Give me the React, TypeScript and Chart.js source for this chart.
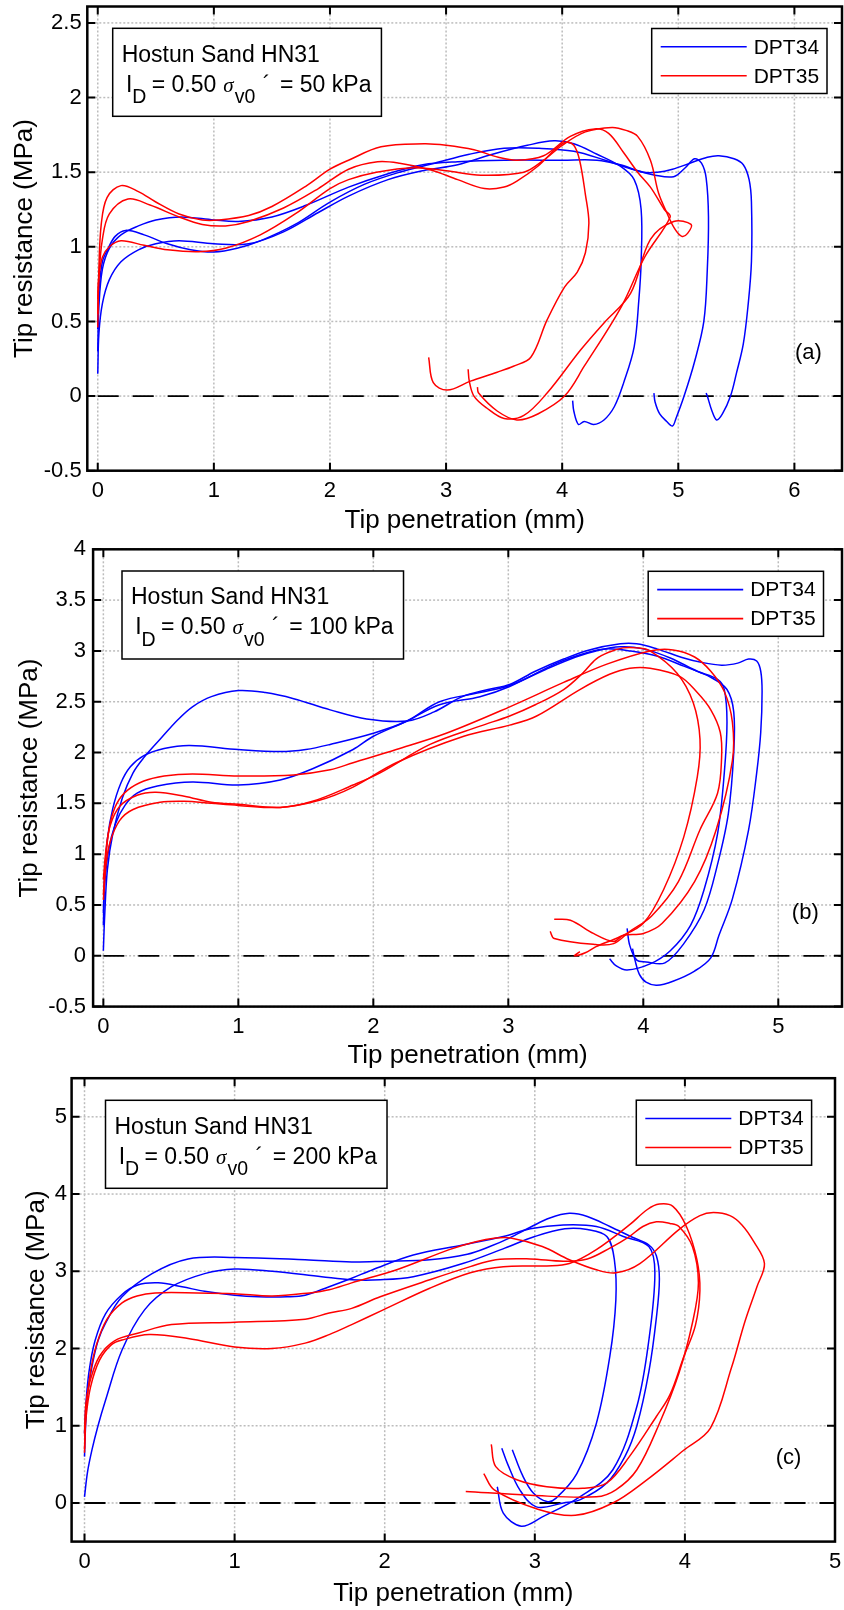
import React, { useEffect, useRef } from "react";
import { Chart, registerables } from "chart.js";

Chart.register(...registerables);

type Pt = [number, number];

// ---------------- Panel (a): sigma'v0 = 50 kPa ----------------
const a_dpt34_1: Pt[] = [[0.0,0.15],[0.01,0.42],[0.04,0.62],[0.1,0.78],[0.2,0.9],[0.35,0.98],[0.5,1.02],[0.7,1.04],[1.0,1.02],[1.3,1.02],[1.6,1.1],[1.9,1.23],[2.16,1.34],[2.5,1.45],[2.8,1.51],[3.1,1.55],[3.4,1.62],[3.7,1.68],[3.93,1.71],[4.1,1.69],[4.3,1.62],[4.5,1.54],[4.62,1.45],[4.68,1.25],[4.68,0.9],[4.66,0.64],[4.62,0.33],[4.53,0.09],[4.45,-0.07],[4.36,-0.16],[4.27,-0.19],[4.19,-0.17],[4.14,-0.19],[4.1,-0.1],[4.09,-0.03]];
const a_dpt34_2: Pt[] = [[0.0,0.45],[0.01,0.7],[0.04,0.9],[0.09,0.99],[0.15,1.07],[0.24,1.11],[0.4,1.08],[0.6,1.02],[0.8,0.98],[1.0,0.965],[1.2,0.99],[1.4,1.04],[1.7,1.15],[2.0,1.3],[2.3,1.42],[2.6,1.5],[2.9,1.56],[3.2,1.62],[3.5,1.66],[3.8,1.66],[4.1,1.64],[4.37,1.58],[4.6,1.52],[4.8,1.48],[4.96,1.47],[5.06,1.53],[5.14,1.59],[5.2,1.56],[5.24,1.46],[5.26,1.2],[5.25,0.85],[5.22,0.5],[5.14,0.23],[5.05,0.0],[4.98,-0.15],[4.95,-0.2],[4.9,-0.17],[4.84,-0.12],[4.8,-0.04],[4.79,0.02]];
const a_dpt34_3: Pt[] = [[0.0,0.3],[0.01,0.6],[0.04,0.85],[0.1,0.99],[0.2,1.08],[0.35,1.14],[0.5,1.18],[0.72,1.2],[1.0,1.18],[1.21,1.17],[1.5,1.2],[1.8,1.28],[2.16,1.4],[2.5,1.49],[2.8,1.55],[3.1,1.57],[3.5,1.58],[4.0,1.58],[4.3,1.58],[4.5,1.55],[4.7,1.5],[4.82,1.5],[4.95,1.52],[5.1,1.56],[5.25,1.6],[5.35,1.61],[5.48,1.59],[5.56,1.55],[5.61,1.45],[5.63,1.3],[5.63,0.9],[5.6,0.6],[5.56,0.35],[5.5,0.15],[5.45,0.0],[5.38,-0.12],[5.33,-0.16],[5.29,-0.1],[5.25,0.0],[5.24,0.02]];
const a_dpt35_1: Pt[] = [[0.0,0.46],[0.01,0.85],[0.03,1.15],[0.08,1.33],[0.2,1.41],[0.35,1.37],[0.5,1.3],[0.7,1.22],[0.9,1.18],[1.04,1.18],[1.3,1.21],[1.5,1.27],[1.8,1.41],[2.0,1.52],[2.16,1.58],[2.44,1.67],[2.81,1.69],[3.0,1.68],[3.24,1.65],[3.45,1.6],[3.61,1.58],[3.84,1.61],[4.07,1.74],[4.28,1.79],[4.4,1.76],[4.53,1.63],[4.65,1.5],[4.76,1.4],[4.88,1.25],[4.93,1.2],[4.71,0.93],[4.51,0.6],[4.19,0.2],[4.02,0.0],[3.79,-0.12],[3.61,-0.16],[3.44,-0.1],[3.28,0.02],[3.27,0.06]];
const a_dpt35_2: Pt[] = [[0.0,0.55],[0.01,0.8],[0.04,1.05],[0.1,1.22],[0.26,1.32],[0.45,1.28],[0.7,1.2],[0.9,1.15],[1.1,1.14],[1.3,1.17],[1.6,1.26],[1.9,1.39],[2.16,1.52],[2.41,1.57],[2.6,1.56],[2.87,1.515],[3.1,1.45],[3.33,1.39],[3.5,1.4],[3.61,1.44],[3.79,1.54],[3.95,1.66],[4.03,1.7],[4.1,1.68],[4.15,1.58],[4.2,1.35],[4.23,1.16],[4.2,0.96],[4.13,0.83],[4.02,0.73],[3.87,0.51],[3.73,0.26],[3.58,0.2],[3.44,0.16],[3.21,0.1],[3.01,0.04],[2.89,0.09],[2.85,0.26]];
const a_dpt35_3: Pt[] = [[0.0,0.65],[0.01,0.8],[0.04,0.93],[0.1,1.0],[0.2,1.04],[0.4,1.01],[0.6,0.98],[0.87,0.967],[1.1,0.99],[1.4,1.08],[1.7,1.22],[2.0,1.39],[2.16,1.45],[2.4,1.5],[2.72,1.53],[3.0,1.51],[3.3,1.48],[3.67,1.5],[3.84,1.58],[4.0,1.68],[4.2,1.77],[4.43,1.8],[4.55,1.78],[4.65,1.74],[4.76,1.58],[4.83,1.36],[4.9,1.23],[4.97,1.12],[5.03,1.07],[5.08,1.09],[5.11,1.15],[4.96,1.17],[4.76,1.05],[4.59,0.69],[4.36,0.49],[4.16,0.31],[3.87,0.02],[3.67,-0.13],[3.5,-0.15],[3.35,-0.08],[3.24,0.0],[3.2,0.1],[3.19,0.18]];

// ---------------- Panel (b): sigma'v0 = 100 kPa ----------------
const b_dpt34_1: Pt[] = [[0.0,0.05],[0.01,0.4],[0.03,0.85],[0.07,1.2],[0.14,1.55],[0.22,1.8],[0.3,1.95],[0.42,2.13],[0.55,2.32],[0.66,2.45],[0.8,2.55],[1.0,2.61],[1.2,2.59],[1.41,2.53],[1.68,2.42],[1.95,2.33],[2.25,2.31],[2.45,2.4],[2.66,2.55],[2.85,2.62],[3.01,2.67],[3.2,2.8],[3.41,2.92],[3.6,3.01],[3.83,3.07],[3.95,3.07],[4.1,3.02],[4.3,2.93],[4.42,2.89],[4.58,2.86],[4.7,2.88],[4.78,2.92],[4.84,2.9],[4.87,2.8],[4.88,2.6],[4.87,2.2],[4.84,1.8],[4.78,1.24],[4.66,0.56],[4.56,0.2],[4.5,-0.02],[4.38,-0.15],[4.22,-0.25],[4.1,-0.29],[4.02,-0.26],[3.97,-0.18],[3.94,-0.05],[3.92,0.07]];
const b_dpt34_2: Pt[] = [[0.0,0.42],[0.01,0.8],[0.03,1.15],[0.07,1.45],[0.13,1.7],[0.2,1.86],[0.3,1.97],[0.45,2.04],[0.64,2.07],[1.0,2.03],[1.31,2.01],[1.5,2.03],[1.68,2.08],[2.0,2.19],[2.25,2.31],[2.49,2.5],[2.79,2.59],[3.01,2.66],[3.28,2.82],[3.5,2.94],[3.65,3.0],[3.83,3.04],[4.0,3.02],[4.2,2.93],[4.4,2.8],[4.55,2.72],[4.6,2.62],[4.62,2.3],[4.6,1.8],[4.55,1.2],[4.45,0.65],[4.35,0.3],[4.2,0.05],[4.05,-0.08],[3.88,-0.14],[3.8,-0.1],[3.75,-0.03]];
const b_dpt34_3: Pt[] = [[0.0,0.3],[0.01,0.7],[0.04,1.05],[0.09,1.3],[0.16,1.48],[0.25,1.6],[0.4,1.67],[0.66,1.71],[1.0,1.68],[1.31,1.73],[1.55,1.84],[1.85,2.03],[2.0,2.16],[2.25,2.31],[2.49,2.47],[2.79,2.55],[3.01,2.65],[3.36,2.88],[3.6,2.99],[3.73,3.02],[3.9,3.0],[4.1,2.95],[4.3,2.85],[4.5,2.74],[4.62,2.62],[4.67,2.4],[4.67,2.0],[4.63,1.4],[4.55,0.9],[4.45,0.45],[4.3,0.12],[4.16,-0.07],[4.02,-0.06],[3.95,-0.04],[3.9,0.1],[3.88,0.27]];
const b_dpt35_1: Pt[] = [[0.0,0.6],[0.02,1.0],[0.05,1.3],[0.1,1.5],[0.18,1.63],[0.3,1.72],[0.45,1.77],[0.66,1.79],[1.0,1.77],[1.41,1.78],[1.68,1.83],[1.85,1.9],[2.17,2.03],[2.54,2.19],[3.01,2.45],[3.41,2.69],[3.73,2.87],[4.05,3.0],[4.22,3.01],[4.38,2.94],[4.5,2.8],[4.6,2.6],[4.66,2.3],[4.66,1.92],[4.54,1.24],[4.38,0.73],[4.14,0.32],[4.0,0.22],[3.85,0.2],[3.78,0.14],[3.63,0.22],[3.46,0.35],[3.34,0.36]];
const b_dpt35_2: Pt[] = [[0.0,0.75],[0.02,1.05],[0.05,1.28],[0.12,1.47],[0.25,1.58],[0.39,1.61],[0.6,1.57],[0.8,1.51],[1.0,1.49],[1.31,1.46],[1.55,1.52],[1.85,1.68],[2.05,1.8],[2.42,2.08],[2.79,2.26],[3.01,2.36],[3.2,2.47],[3.41,2.62],[3.55,2.78],[3.65,2.92],[3.75,2.99],[3.85,3.03],[3.95,3.03],[4.05,3.0],[4.25,2.78],[4.37,2.49],[4.42,2.13],[4.4,1.76],[4.3,1.17],[4.15,0.65],[4.0,0.32],[3.83,0.19],[3.65,0.09],[3.57,0.03],[3.49,0.0],[3.53,0.04]];
const b_dpt35_3: Pt[] = [[0.0,0.55],[0.02,0.9],[0.05,1.12],[0.12,1.33],[0.22,1.44],[0.42,1.51],[0.6,1.52],[0.8,1.5],[1.0,1.48],[1.31,1.46],[1.6,1.53],[1.85,1.66],[2.17,1.9],[2.67,2.16],[3.01,2.27],[3.21,2.36],[3.53,2.62],[3.75,2.77],[3.9,2.83],[4.05,2.83],[4.27,2.75],[4.4,2.59],[4.5,2.42],[4.57,2.2],[4.58,1.95],[4.55,1.6],[4.42,1.24],[4.26,0.73],[4.06,0.39],[3.9,0.24],[3.78,0.12],[3.65,0.11],[3.34,0.17],[3.31,0.24]];

// ---------------- Panel (c): sigma'v0 = 200 kPa ----------------
const c_dpt34_1: Pt[] = [[0.0,0.08],[0.02,0.4],[0.05,0.69],[0.09,1.0],[0.14,1.33],[0.25,1.98],[0.4,2.5],[0.58,2.8],[0.8,2.97],[1.0,3.03],[1.25,3.0],[1.58,2.93],[1.78,2.89],[1.97,2.89],[2.19,2.93],[2.52,3.1],[2.8,3.3],[3.0,3.45],[3.2,3.55],[3.35,3.54],[3.48,3.45],[3.53,3.15],[3.54,2.63],[3.5,1.9],[3.41,1.03],[3.28,0.38],[3.14,0.06],[3.08,0.02],[2.99,0.13],[2.92,0.35],[2.85,0.69]];
const c_dpt34_2: Pt[] = [[0.0,0.6],[0.005,0.9],[0.02,1.4],[0.05,1.77],[0.09,2.1],[0.14,2.33],[0.25,2.67],[0.45,2.97],[0.69,3.16],[1.0,3.18],[1.47,3.15],[1.78,3.12],[2.0,3.13],[2.3,3.15],[2.55,3.22],[2.7,3.32],[2.83,3.43],[2.97,3.57],[3.1,3.69],[3.23,3.75],[3.35,3.71],[3.5,3.58],[3.65,3.44],[3.76,3.34],[3.81,3.2],[3.83,2.9],[3.81,2.4],[3.76,1.7],[3.68,1.0],[3.6,0.6],[3.48,0.26],[3.3,0.04],[3.19,0.0],[3.01,-0.05],[2.9,0.17],[2.82,0.5],[2.78,0.71]];
const c_dpt34_3: Pt[] = [[0.0,0.9],[0.01,1.3],[0.03,1.7],[0.07,2.1],[0.14,2.45],[0.25,2.7],[0.35,2.82],[0.49,2.85],[0.65,2.8],[0.8,2.74],[1.0,2.69],[1.16,2.67],[1.35,2.67],[1.47,2.69],[1.63,2.8],[1.78,2.91],[1.92,3.02],[2.19,3.21],[2.52,3.34],[2.79,3.45],[2.97,3.55],[3.19,3.6],[3.41,3.58],[3.59,3.45],[3.76,3.32],[3.8,2.98],[3.76,2.11],[3.68,1.25],[3.52,0.43],[3.3,0.08],[3.05,-0.18],[2.91,-0.3],[2.79,-0.13],[2.75,0.21]];
const c_dpt35_1: Pt[] = [[0.0,0.65],[0.01,1.2],[0.04,1.7],[0.08,2.05],[0.15,2.38],[0.25,2.59],[0.35,2.68],[0.47,2.72],[0.75,2.72],[1.0,2.71],[1.25,2.68],[1.5,2.72],[1.63,2.76],[1.78,2.85],[2.08,3.02],[2.43,3.28],[2.6,3.38],[2.74,3.43],[2.84,3.43],[3.05,3.32],[3.23,3.15],[3.41,3.02],[3.54,2.98],[3.7,3.1],[3.96,3.54],[4.1,3.72],[4.19,3.76],[4.3,3.72],[4.38,3.6],[4.46,3.38],[4.53,3.1],[4.48,2.8],[4.4,2.35],[4.31,1.75],[4.17,0.97],[3.99,0.68],[3.74,0.29],[3.52,0.0],[3.27,-0.16],[3.02,-0.08],[2.73,0.17],[2.66,0.38]];
const c_dpt35_2: Pt[] = [[0.0,0.9],[0.01,1.3],[0.04,1.6],[0.1,1.9],[0.2,2.1],[0.36,2.2],[0.58,2.31],[1.0,2.34],[1.47,2.38],[1.63,2.46],[1.78,2.52],[1.97,2.67],[2.3,2.89],[2.57,3.06],[2.74,3.15],[2.97,3.16],[3.19,3.13],[3.35,3.16],[3.5,3.3],[3.63,3.45],[3.72,3.58],[3.81,3.64],[3.9,3.62],[3.96,3.58],[4.05,3.32],[4.09,2.85],[4.05,2.33],[3.96,1.68],[3.83,1.03],[3.68,0.43],[3.54,0.17],[3.41,0.08],[2.97,0.1],[2.54,0.15]];
const c_dpt35_3: Pt[] = [[0.0,0.7],[0.01,1.1],[0.04,1.5],[0.1,1.85],[0.18,2.05],[0.25,2.11],[0.43,2.18],[0.69,2.13],[1.0,2.02],[1.25,2.0],[1.47,2.07],[1.63,2.18],[1.78,2.31],[1.99,2.5],[2.3,2.78],[2.57,2.98],[2.79,3.06],[3.08,3.07],[3.23,3.1],[3.41,3.28],[3.63,3.6],[3.75,3.8],[3.83,3.87],[3.92,3.84],[4.01,3.58],[4.08,3.15],[4.1,2.75],[4.07,2.3],[3.99,1.88],[3.9,1.4],[3.81,1.12],[3.63,0.6],[3.48,0.26],[3.32,0.19],[3.08,0.21],[2.88,0.3],[2.74,0.47],[2.71,0.76]];

// ---------------- Ticks & labels ----------------
const xTicksA = [0, 1, 2, 3, 4, 5, 6];
const yTicksA = [-0.5, 0, 0.5, 1, 1.5, 2, 2.5];
const xTicksB = [0, 1, 2, 3, 4, 5];
const yTicksB = [-0.5, 0, 0.5, 1, 1.5, 2, 2.5, 3, 3.5, 4];
const xTicksC = [0, 1, 2, 3, 4, 5];
const yTicksC = [0, 1, 2, 3, 4, 5];

const seriesLabels = ["DPT34", "DPT35"];
const seriesColors = ["#0000ff", "#ff0000"];
const stressValues = ["50", "100", "200"];
const panelTags = ["(a)", "(b)", "(c)"];
const xTitle = "Tip penetration (mm)";
const yTitle = "Tip resistance (MPa)";

const FONT = '"Liberation Sans", Arial, Helvetica, sans-serif';
Chart.defaults.font.family = FONT;

interface PanelCfg {
  top: number;
  height: number;
  padTop: number;
  padRight: number;
  yAxisW: number;
  xAxisH: number;
  xMin: number;
  xMax: number;
  yMin: number;
  yMax: number;
  xTicks: number[];
  yTicks: number[];
  yTickPad: number;
  yTitlePad: number;
  xTitlePad: number;
  c34: Pt[][];
  c35: Pt[][];
  stress: string;
  tag: string;
  tagAt: Pt;
  boxDx: number;
  boxDy: number;
  legRight: number;
}

const panels: PanelCfg[] = [
  {
    top: 0, height: 545, padTop: 6.5, padRight: 2, yAxisW: 87.3, xAxisH: 74.3,
    xMin: -0.09, xMax: 6.41, yMin: -0.5, yMax: 2.61,
    xTicks: xTicksA, yTicks: yTicksA, yTickPad: 5.6, yTitlePad: 9.2, xTitlePad: 8.2,
    c34: [a_dpt34_1, a_dpt34_2, a_dpt34_3], c35: [a_dpt35_1, a_dpt35_2, a_dpt35_3],
    stress: stressValues[0], tag: panelTags[0], tagAt: [6.12, 0.29],
    boxDx: 25.4, boxDy: 21.8, legRight: 15,
  },
  {
    top: 540, height: 540, padTop: 9.3, padRight: 2, yAxisW: 93.1, xAxisH: 73.4,
    xMin: -0.076, xMax: 5.472, yMin: -0.5, yMax: 4,
    xTicks: xTicksB, yTicks: yTicksB, yTickPad: 7, yTitlePad: 14.5, xTitlePad: 8.2,
    c34: [b_dpt34_1, b_dpt34_2, b_dpt34_3], c35: [b_dpt35_1, b_dpt35_2, b_dpt35_3],
    stress: stressValues[1], tag: panelTags[1], tagAt: [5.2, 0.42],
    boxDx: 28.9, boxDy: 21.7, legRight: 18.5,
  },
  {
    top: 1068, height: 542, padTop: 10.2, padRight: 9, yAxisW: 71.6, xAxisH: 68.4,
    xMin: -0.086, xMax: 5.0, yMin: -0.5, yMax: 5.5,
    xTicks: xTicksC, yTicks: yTicksC, yTickPad: 4.5, yTitlePad: 21.5, xTitlePad: 0.2,
    c34: [c_dpt34_1, c_dpt34_2, c_dpt34_3], c35: [c_dpt35_1, c_dpt35_2, c_dpt35_3],
    stress: stressValues[2], tag: panelTags[2], tagAt: [4.69, 0.58],
    boxDx: 33.9, boxDy: 22.1, legRight: 23.4,
  },
];

function drawInfoBox(ctx: CanvasRenderingContext2D, bx: number, by: number, stress: string) {
  const main = `23px ${FONT}`;
  const sub = `19.5px ${FONT}`;
  const sym = 'italic 21px "Liberation Serif", "DejaVu Serif", serif';
  const tail = `= ${stress} kPa`;
  ctx.font = main;
  const tailW = ctx.measureText(tail).width;
  const w = 167.3 + tailW + 10;
  const h = 88;
  ctx.setLineDash([]);
  ctx.fillStyle = "#ffffff";
  ctx.fillRect(bx, by, w, h);
  ctx.strokeStyle = "#000000";
  ctx.lineWidth = 1.5;
  ctx.strokeRect(bx, by, w, h);
  ctx.fillStyle = "#000000";
  ctx.textAlign = "left";
  ctx.textBaseline = "alphabetic";
  ctx.fillText("Hostun Sand HN31", bx + 9, by + 33.4);
  const b2 = by + 63.4;
  const bs = by + 75;
  ctx.fillText("I", bx + 13.3, b2);
  ctx.font = sub;
  ctx.fillText("D", bx + 19.5, bs);
  ctx.font = main;
  ctx.fillText("= 0.50", bx + 39, b2);
  ctx.font = sym;
  ctx.fillText("\u03c3", bx + 110.6, b2);
  ctx.font = sub;
  ctx.fillText("v0", bx + 122, bs);
  ctx.font = main;
  ctx.fillText("\u00b4", bx + 150, b2);
  ctx.fillText(tail, bx + 167.3, b2);
}

function makeDecor(cfg: PanelCfg) {
  return {
    id: "decor",
    beforeDatasetsDraw(chart: any) {
      const { ctx, chartArea: ca, scales } = chart;
      const xs = scales.x;
      const ys = scales.y;
      ctx.save();
      ctx.strokeStyle = "#bcbcbc";
      ctx.lineWidth = 1.5;
      ctx.setLineDash([2, 2]);
      for (const v of cfg.xTicks) {
        const px = xs.getPixelForValue(v);
        ctx.beginPath();
        ctx.moveTo(px, ca.top);
        ctx.lineTo(px, ca.bottom);
        ctx.stroke();
      }
      for (const v of cfg.yTicks) {
        const py = ys.getPixelForValue(v);
        ctx.beginPath();
        ctx.moveTo(ca.left, py);
        ctx.lineTo(ca.right, py);
        ctx.stroke();
      }
      ctx.strokeStyle = "#000000";
      ctx.lineWidth = 1.8;
      ctx.setLineDash([21, 14]);
      const y0 = ys.getPixelForValue(0);
      ctx.beginPath();
      ctx.moveTo(xs.getPixelForValue(0), y0);
      ctx.lineTo(ca.right, y0);
      ctx.stroke();
      ctx.restore();
    },
    afterDatasetsDraw(chart: any) {
      const { ctx, chartArea: ca, scales } = chart;
      const xs = scales.x;
      const ys = scales.y;
      ctx.save();
      ctx.setLineDash([]);
      ctx.strokeStyle = "#000000";
      ctx.lineWidth = 2;
      const tl = 8;
      for (const v of cfg.xTicks) {
        const px = xs.getPixelForValue(v);
        ctx.beginPath();
        ctx.moveTo(px, ca.bottom);
        ctx.lineTo(px, ca.bottom - tl);
        ctx.moveTo(px, ca.top);
        ctx.lineTo(px, ca.top + tl);
        ctx.stroke();
      }
      for (const v of cfg.yTicks) {
        const py = ys.getPixelForValue(v);
        ctx.beginPath();
        ctx.moveTo(ca.left, py);
        ctx.lineTo(ca.left + tl, py);
        ctx.moveTo(ca.right, py);
        ctx.lineTo(ca.right - tl, py);
        ctx.stroke();
      }
      ctx.lineWidth = 2.5;
      ctx.strokeRect(ca.left, ca.top, ca.right - ca.left, ca.bottom - ca.top);

      // info box
      drawInfoBox(ctx, ca.left + cfg.boxDx, ca.top + cfg.boxDy, cfg.stress);

      // legend
      const lw = 175.3;
      const lh = 65;
      const lx = ca.right - cfg.legRight - lw;
      const ly = ca.top + 22;
      ctx.fillStyle = "#ffffff";
      ctx.fillRect(lx, ly, lw, lh);
      ctx.strokeStyle = "#000000";
      ctx.lineWidth = 1.5;
      ctx.strokeRect(lx, ly, lw, lh);
      ctx.font = `21px ${FONT}`;
      ctx.textAlign = "left";
      ctx.textBaseline = "middle";
      seriesLabels.forEach((lab, i) => {
        const yy = ly + 18.3 + i * 29;
        ctx.strokeStyle = seriesColors[i];
        ctx.lineWidth = 1.6;
        ctx.beginPath();
        ctx.moveTo(lx + 9, yy);
        ctx.lineTo(lx + 95, yy);
        ctx.stroke();
        ctx.fillStyle = "#000000";
        ctx.fillText(lab, lx + 102, yy + 1);
      });

      // panel tag
      ctx.font = `22px ${FONT}`;
      ctx.textAlign = "center";
      ctx.textBaseline = "middle";
      ctx.fillStyle = "#000000";
      ctx.fillText(cfg.tag, xs.getPixelForValue(cfg.tagAt[0]), ys.getPixelForValue(cfg.tagAt[1]));
      ctx.restore();
    },
  };
}

function Panel({ cfg }: { cfg: PanelCfg }) {
  const ref = useRef<HTMLCanvasElement | null>(null);
  useEffect(() => {
    const canvas = ref.current;
    if (!canvas) return;
    const common = {
      showLine: true,
      pointRadius: 0,
      pointHoverRadius: 0,
      borderWidth: 1.5,
      tension: 0.35,
      fill: false,
    };
    const datasets: any[] = [
      ...cfg.c35.map((c) => ({
        ...common,
        label: seriesLabels[1],
        borderColor: seriesColors[1],
        data: c.map(([x, y]) => ({ x, y })),
      })),
      ...cfg.c34.map((c) => ({
        ...common,
        label: seriesLabels[0],
        borderColor: seriesColors[0],
        data: c.map(([x, y]) => ({ x, y })),
      })),
    ];
    const chart = new Chart(canvas, {
      type: "scatter",
      data: { datasets },
      options: {
        responsive: false,
        animation: false,
        devicePixelRatio: 1,
        events: [],
        layout: { padding: { left: 0, right: cfg.padRight, top: cfg.padTop, bottom: 0 } },
        plugins: { legend: { display: false }, tooltip: { enabled: false } },
        scales: {
          x: {
            type: "linear",
            min: cfg.xMin,
            max: cfg.xMax,
            afterBuildTicks: (s: any) => {
              s.ticks = cfg.xTicks.map((v) => ({ value: v }));
            },
            afterFit: (s: any) => {
              s.height = cfg.xAxisH;
              s.paddingLeft = 0;
              s.paddingRight = 0;
            },
            grid: { display: false, drawTicks: false, tickLength: 0 },
            border: { display: false },
            ticks: {
              autoSkip: false,
              maxRotation: 0,
              padding: 7.5,
              color: "#000000",
              font: { size: 22, family: FONT },
              callback: (v: any) => String(v),
            },
            title: {
              display: true,
              text: xTitle,
              color: "#000000",
              font: { size: 26, family: FONT },
              padding: { top: 0, bottom: cfg.xTitlePad },
            },
          },
          y: {
            type: "linear",
            min: cfg.yMin,
            max: cfg.yMax,
            afterBuildTicks: (s: any) => {
              s.ticks = cfg.yTicks.map((v) => ({ value: v }));
            },
            afterFit: (s: any) => {
              s.width = cfg.yAxisW;
              s.paddingTop = 0;
              s.paddingBottom = 0;
            },
            grid: { display: false, drawTicks: false, tickLength: 0 },
            border: { display: false },
            ticks: {
              autoSkip: false,
              padding: cfg.yTickPad,
              color: "#000000",
              font: { size: 22, family: FONT },
              callback: (v: any) => String(v),
            },
            title: {
              display: true,
              text: yTitle,
              color: "#000000",
              font: { size: 26, family: FONT },
              padding: { top: cfg.yTitlePad, bottom: 0 },
            },
          },
        },
      } as any,
      plugins: [makeDecor(cfg)],
    });
    return () => chart.destroy();
  }, [cfg]);
  return (
    <canvas
      ref={ref}
      width={844}
      height={cfg.height}
      style={{ position: "absolute", left: 0, top: cfg.top, width: 844, height: cfg.height }}
    />
  );
}

export default function App() {
  useEffect(() => {
    document.body.style.margin = "0";
  }, []);
  return (
    <div
      style={{
        position: "absolute",
        left: 0,
        top: 0,
        width: 844,
        height: 1610,
        background: "#ffffff",
        overflow: "hidden",
      }}
    >
      {panels.map((p, i) => (
        <Panel key={i} cfg={p} />
      ))}
    </div>
  );
}
